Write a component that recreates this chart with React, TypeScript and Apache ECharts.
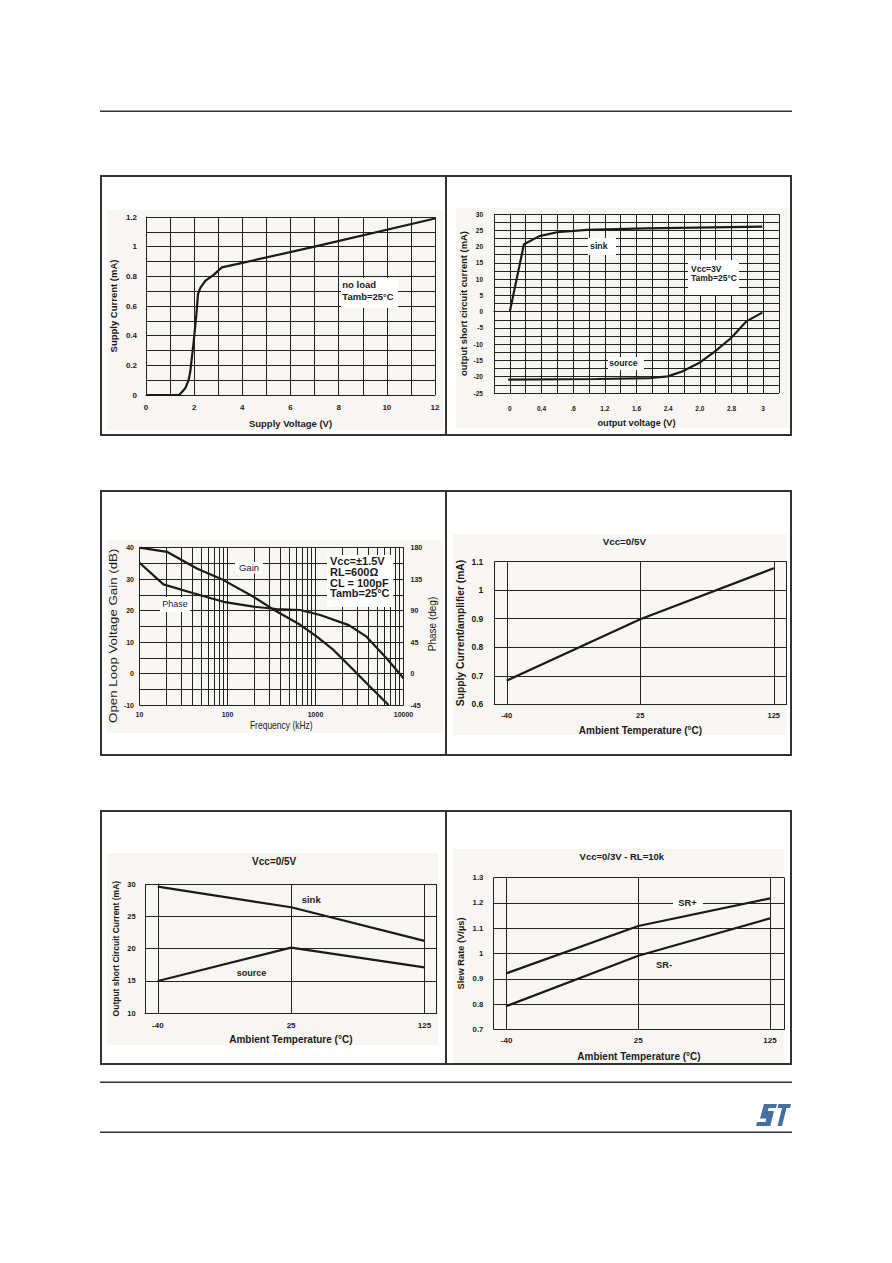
import React, { useEffect, useRef } from "react";
import * as echarts from "echarts";

const FONT = '"Liberation Sans", Arial, Helvetica, sans-serif';
const NARROW = '"Liberation Sans Narrow", "Liberation Sans", Arial, sans-serif';
const INK = "#1a1a1a";
const GRID = "#222222";
const PANEL = "#f7f6f3";
const FRAME = "#333333";

// ---------- Chart 1: Supply current vs supply voltage ----------
const c1Voltage = [0, 1.38, 1.63, 1.77, 1.84, 1.98, 2.09, 2.16, 2.25, 2.46, 2.81, 3.15, 7.0, 12];
const c1Current = [0, 0, 0.045, 0.1, 0.16, 0.36, 0.54, 0.68, 0.72, 0.77, 0.81, 0.86, 1.0, 1.19];
const c1XTicks = [0, 2, 4, 6, 8, 10, 12];
const c1YTicks = ["0", "0.2", "0.4", "0.6", "0.8", "1", "1.2"];

// ---------- Chart 2: output short circuit current vs output voltage ----------
const c2XTickLabels = ["0", "0.4", ".6", "1.2", "1.6", "2.4", "2.0", "2.8", "3"];
const c2LabelStep = 0.375;
const c2YTicks = [30, 25, 20, 15, 10, 5, 0, -5, -10, -15, -20, -25];
const c2SinkV = [0, 0.167, 0.35, 0.56, 0.91, 1.61, 2.99];
const c2SinkI = [0, 20.7, 23.2, 24.4, 25.1, 25.6, 26.1];
const c2SourceV = [-0.02, 1.03, 1.67, 1.87, 2.04, 2.24, 2.43, 2.62, 2.8, 2.99];
const c2SourceI = [-20.9, -20.7, -20.4, -19.9, -18.4, -15.8, -12.2, -8.1, -3.0, -0.3];

// ---------- Chart 3: open loop gain & phase vs frequency ----------
const c3GainFreq = [10, 20.5, 44.8, 90, 197, 363, 670, 1035, 1600, 2690, 4170, 6760];
const c3GainDb = [40, 38.7, 33.4, 29.7, 24.4, 19.7, 15.5, 11.7, 7.5, 1.2, -4.2, -10];
const c3PhaseFreq = [10, 18.7, 41, 90, 197, 363, 670, 1130, 2390, 3800, 6450, 10000];
const c3PhaseDeg = [158.5, 127.6, 114.8, 102.6, 95.6, 92.3, 90.9, 83.7, 69.3, 52.7, 21.6, -6.75];
const c3GainTicks = [40, 30, 20, 10, 0, -10];
const c3PhaseTicks = [180, 135, 90, 45, 0, -45];
const c3Decades = [10, 100, 1000];
const c3MinorSteps = [2, 3, 4, 5, 6, 7, 8, 9];

// ---------- Charts 4-6: vs ambient temperature ----------
const tempLabels = ["-40", "25", "125"];
const c4Current = [0.683, 0.898, 1.077];
const c5Sink = [29.6, 26.4, 21.2];
const c5Source = [15.0, 20.15, 17.1];
const c6SRPlus = [0.922, 1.109, 1.218];
const c6SRMinus = [0.792, 0.991, 1.139];

const ST_LOGO =
  "M8 0 L21 0 L20 4 L12.5 4 L11.8 7 L18 7 L14.3 22 L0 22 L1 18 L9.5 18 L10.3 14.5 L4 14.5 Z " +
  "M22.5 0 L35 0 L34 4 L30.5 4 L26 22 L21.5 22 L26 4 L21.5 4 Z";
echarts.graphic.registerShape("stlogo", echarts.graphic.extendPath(ST_LOGO, {}));

const tickFont = (size: number, family = FONT, weight = "bold") => ({
  color: INK,
  fontFamily: family,
  fontWeight: weight,
  fontSize: size,
});
const nameStyle = (size: number) => ({ color: INK, fontFamily: FONT, fontWeight: "bold", fontSize: size });
const splitLine = { show: true, lineStyle: { color: GRID, width: 1 } };
const axisLine = { show: true, lineStyle: { color: GRID, width: 1 } };

function lineSeries(xs: number[], ys: number[], xi: number, yi: number, extra: any = {}) {
  return {
    type: "line",
    xAxisIndex: xi,
    yAxisIndex: yi,
    data: xs.map((v, i) => [v, ys[i]]),
    showSymbol: false,
    symbol: "none",
    silent: true,
    lineStyle: { color: INK, width: 2.2 },
    itemStyle: { color: INK },
    z: 3,
    ...extra,
  };
}

function tempXAxis(gridIndex: number, min: number, max: number, margin: number, nameGap: number, fs: number) {
  return {
    type: "value",
    gridIndex,
    min,
    max,
    axisLine,
    axisTick: { show: false, customValues: [min, 0, 1, 2, max] },
    splitLine,
    axisLabel: {
      ...tickFont(fs),
      margin,
      customValues: [0, 1, 2],
      showMinLabel: true,
      showMaxLabel: true,
      formatter: (v: number) => tempLabels[Math.round(v)] ?? "",
    },
    name: "Ambient Temperature (°C)",
    nameLocation: "middle",
    nameGap,
    nameTextStyle: nameStyle(10),
  };
}

function rect(x: number, y: number, w: number, h: number, style: any, z = 0) {
  return { type: "rect", z, silent: true, shape: { x, y, width: w, height: h }, style };
}
function hline(x1: number, x2: number, y: number, w = 1.5) {
  return { type: "line", silent: true, shape: { x1, y1: y, x2, y2: y }, style: { stroke: FRAME, lineWidth: w } };
}
function vline(x: number, y1: number, y2: number, w = 2) {
  return { type: "line", silent: true, shape: { x1: x, y1, x2: x, y2 }, style: { stroke: FRAME, lineWidth: w } };
}
function label(text: string, x: number, y: number, size: number, opts: any = {}) {
  const { align = "left", vAlign = "middle", weight = "bold", lineHeight, family = FONT, ...rest } = opts;
  return {
    type: "text",
    z: 20,
    silent: true,
    x,
    y,
    ...rest,
    style: {
      text,
      fill: INK,
      fontSize: size,
      fontWeight: weight,
      fontFamily: family,
      align,
      verticalAlign: vAlign,
      lineHeight: lineHeight ?? size * 1.2,
    },
  };
}
const whiteBox = (x: number, y: number, w: number, h: number) => rect(x, y, w, h, { fill: "#ffffff" }, 15);

export default function App() {
  const ref = useRef<HTMLDivElement>(null);

  useEffect(() => {
    if (!ref.current) return;
    const chart = echarts.init(ref.current, null, { renderer: "svg" });

    const c3MinorLines = c3Decades.flatMap((d) => c3MinorSteps.map((m) => m * d));

    const option: any = {
      animation: false,
      backgroundColor: "#ffffff",
      grid: [
        { left: 146, top: 217, width: 289, height: 178 },
        { left: 494, top: 214, width: 285, height: 179 },
        { left: 139.5, top: 547.7, width: 264, height: 157.3 },
        { left: 494.3, top: 561.7, width: 292.4, height: 142.6 },
        { left: 145, top: 884, width: 291.7, height: 129.3 },
        { left: 493.7, top: 877.7, width: 290.6, height: 151.6 },
      ],
      xAxis: [
        {
          type: "value",
          gridIndex: 0,
          min: 0,
          max: 12,
          interval: 1,
          axisLine,
          axisTick: { show: false },
          splitLine,
          axisLabel: {
            ...tickFont(8),
            margin: 8,
            showMinLabel: true,
            showMaxLabel: true,
            formatter: (v: number) => (c1XTicks.includes(Math.round(v)) ? String(Math.round(v)) : ""),
          },
          name: "Supply Voltage (V)",
          nameLocation: "middle",
          nameGap: 23,
          nameTextStyle: nameStyle(9.5),
        },
        {
          type: "value",
          gridIndex: 1,
          min: -c2LabelStep / 2,
          max: 3 + c2LabelStep / 2,
          interval: c2LabelStep / 2,
          axisLine,
          axisTick: { show: false },
          splitLine,
          axisLabel: {
            ...tickFont(6.5),
            margin: 11.5,
            showMinLabel: true,
            showMaxLabel: true,
            formatter: (v: number) => {
              const k = Math.round(v / (c2LabelStep / 2));
              return k >= 0 && k % 2 === 0 ? c2XTickLabels[k / 2] ?? "" : "";
            },
          },
          name: "output voltage (V)",
          nameLocation: "middle",
          nameGap: 25,
          nameTextStyle: nameStyle(9.2),
        },
        {
          type: "log",
          logBase: 10,
          gridIndex: 2,
          min: 10,
          max: 10000,
          axisLine,
          axisTick: { show: false },
          splitLine,
          axisLabel: {
            ...tickFont(7, NARROW),
            margin: 6,
            showMinLabel: true,
            showMaxLabel: true,
            formatter: (v: number) => String(Math.round(v)),
          },
        },
        tempXAxis(3, -0.0935, 2.097, 7, 21, 7.5),
        tempXAxis(4, -0.096, 2.092, 8, 21, 8),
        tempXAxis(5, -0.098, 2.109, 7, 22, 8),
      ],
      yAxis: [
        {
          type: "value",
          gridIndex: 0,
          min: 0,
          max: 1.2,
          interval: 0.1,
          axisLine,
          axisTick: { show: false },
          splitLine,
          axisLabel: {
            ...tickFont(8),
            margin: 9,
            showMinLabel: true,
            showMaxLabel: true,
            formatter: (v: number) => {
              const s = String(Math.round(v * 10) / 10);
              return c1YTicks.includes(s) ? s : "";
            },
          },
          name: "Supply Current (mA)",
          nameLocation: "middle",
          nameGap: 27.5,
          nameTextStyle: nameStyle(9.5),
        },
        {
          type: "value",
          gridIndex: 1,
          min: -25,
          max: 30,
          interval: 2.5,
          axisLine,
          axisTick: { show: false },
          splitLine,
          axisLabel: {
            ...tickFont(6.5),
            margin: 11,
            showMinLabel: true,
            showMaxLabel: true,
            formatter: (v: number) => (c2YTicks.includes(v) ? String(v) : ""),
          },
          name: "output short circuit current (mA)",
          nameLocation: "middle",
          nameGap: 26.5,
          nameTextStyle: nameStyle(9.4),
        },
        {
          type: "value",
          gridIndex: 2,
          min: -10,
          max: 40,
          interval: 5,
          axisLine,
          axisTick: { show: false },
          splitLine,
          axisLabel: {
            ...tickFont(7, NARROW),
            margin: 5.5,
            showMinLabel: true,
            showMaxLabel: true,
            formatter: (v: number) => (c3GainTicks.includes(v) ? String(v) : ""),
          },
        },
        {
          type: "value",
          gridIndex: 2,
          position: "right",
          min: -45,
          max: 180,
          interval: 22.5,
          axisLine,
          axisTick: { show: false },
          splitLine: { show: false },
          axisLabel: {
            ...tickFont(7, NARROW),
            margin: 7,
            showMinLabel: true,
            showMaxLabel: true,
            formatter: (v: number) => (c3PhaseTicks.includes(v) ? String(v) : ""),
          },
        },
        {
          type: "value",
          gridIndex: 3,
          min: 0.6,
          max: 1.1,
          interval: 0.1,
          axisLine,
          axisTick: { show: false },
          splitLine,
          axisLabel: {
            ...tickFont(8.5),
            margin: 11,
            showMinLabel: true,
            showMaxLabel: true,
            formatter: (v: number) => String(Math.round(v * 10) / 10),
          },
          name: "Supply Current/amplifier (mA)",
          nameLocation: "middle",
          nameGap: 29,
          nameTextStyle: nameStyle(10.3),
        },
        {
          type: "value",
          gridIndex: 4,
          min: 10,
          max: 30,
          interval: 5,
          axisLine,
          axisTick: { show: false },
          splitLine,
          axisLabel: { ...tickFont(7.5), margin: 9.3, showMinLabel: true, showMaxLabel: true },
          name: "Output short Circuit Current (mA)",
          nameLocation: "middle",
          nameGap: 24.5,
          nameTextStyle: nameStyle(8.5),
        },
        {
          type: "value",
          gridIndex: 5,
          min: 0.7,
          max: 1.3,
          interval: 0.1,
          axisLine,
          axisTick: { show: false },
          splitLine,
          axisLabel: {
            ...tickFont(7.7),
            margin: 10.4,
            showMinLabel: true,
            showMaxLabel: true,
            formatter: (v: number) => String(Math.round(v * 10) / 10),
          },
          name: "Slew Rate (V/µs)",
          nameLocation: "middle",
          nameGap: 28,
          nameTextStyle: nameStyle(9.3),
        },
      ],
      series: [
        lineSeries(c1Voltage, c1Current, 0, 0),
        lineSeries(c2SinkV, c2SinkI, 1, 1),
        lineSeries(c2SourceV, c2SourceI, 1, 1),
        lineSeries(c3GainFreq, c3GainDb, 2, 2, {
          markLine: {
            silent: true,
            symbol: ["none", "none"],
            label: { show: false },
            lineStyle: { color: GRID, width: 1, type: "solid" },
            data: c3MinorLines.map((v) => ({ xAxis: v })),
          },
        }),
        lineSeries(c3PhaseFreq, c3PhaseDeg, 2, 3),
        lineSeries([0, 1, 2], c4Current, 3, 4),
        lineSeries([0, 1, 2], c5Sink, 4, 5),
        lineSeries([0, 1, 2], c5Source, 4, 5),
        lineSeries([0, 1, 2], c6SRPlus, 5, 6),
        lineSeries([0, 1, 2], c6SRMinus, 5, 6),
      ],
      graphic: [
        // page rules
        hline(100, 792, 111.3, 1.6),
        hline(100, 792, 1082.3, 1.6),
        hline(100, 792, 1132.3, 1.6),
        // light panels
        rect(107, 210, 336, 220, { fill: PANEL }, -1),
        rect(456, 208, 333, 220, { fill: PANEL }, -1),
        rect(107, 540, 336, 193, { fill: PANEL }, -1),
        rect(453, 534, 333, 201, { fill: PANEL }, -1),
        rect(107, 853, 331, 192, { fill: PANEL }, -1),
        rect(453, 849, 331, 214, { fill: PANEL }, -1),
        // frames
        rect(101, 176, 690, 259, { fill: "none", stroke: FRAME, lineWidth: 2 }, 1),
        vline(446, 176, 435),
        rect(101, 491, 690, 264, { fill: "none", stroke: FRAME, lineWidth: 2 }, 1),
        vline(446, 491, 755),
        rect(101, 811, 690, 253, { fill: "none", stroke: FRAME, lineWidth: 2 }, 1),
        vline(446, 811, 1064),
        // chart 1 annotation
        whiteBox(341, 278, 57, 30),
        label("no load\nTamb=25°C", 342.3, 278.1, 9.5, { vAlign: "top", lineHeight: 12.4 }),
        // chart 2 annotations
        whiteBox(588, 238, 28, 17),
        label("sink", 590, 245.5, 8.8),
        whiteBox(688, 260, 51, 35),
        label("Vcc=3V\nTamb=25°C", 691, 264.3, 8.5, { vAlign: "top", lineHeight: 9.4 }),
        whiteBox(608, 357, 36, 13),
        label("source", 609.3, 363, 8.6),
        // chart 3 annotations and titles
        whiteBox(327, 555, 66, 52),
        label("Vcc=±1.5V\nRL=600Ω\nCL = 100pF\nTamb=25°C", 330, 555.3, 11, {
          vAlign: "top",
          lineHeight: 10.9,
        }),
        whiteBox(235, 562, 28, 11.5),
        label("Gain", 249, 567.5, 9.5, { align: "center", weight: "normal" }),
        whiteBox(160, 597, 30, 15),
        label("Phase", 175, 604.3, 9, { align: "center", weight: "normal" }),
        label("Open Loop Voltage Gain (dB)", 112.7, 635.8, 10, {
          align: "center",
          weight: "normal",
          rotation: Math.PI / 2,
          scaleX: 1.33,
        }),
        label("Frequency (kHz)", 281.3, 725.3, 8.5, { align: "center", weight: "normal", scaleY: 1.3 }),
        label("Phase (deg)", 432.3, 624, 10, { align: "center", weight: "normal", rotation: Math.PI / 2 }),
        // chart 4 title
        label("Vcc=0/5V", 624.3, 541.7, 9.8, { align: "center" }),
        // chart 5 title and labels
        label("Vcc=0/5V", 274.2, 861.7, 10, { align: "center" }),
        label("sink", 301.7, 899.3, 9.5),
        label("source", 236.7, 973.3, 9),
        // chart 6 title and labels
        label("Vcc=0/3V - RL=10k", 621.8, 856, 9.5, { align: "center" }),
        whiteBox(673, 898, 30, 10.5),
        label("SR+", 678.3, 903.3, 9.3),
        label("SR-", 656, 965, 9.3),
        // logo
        { type: "stlogo", x: 756, y: 1104, silent: true, shape: {}, style: { fill: "#46709f" } },
      ],
    };

    chart.setOption(option);
    return () => chart.dispose();
  }, []);

  return <div ref={ref} style={{ position: "absolute", left: 0, top: 0, width: 892, height: 1263 }} />;
}
